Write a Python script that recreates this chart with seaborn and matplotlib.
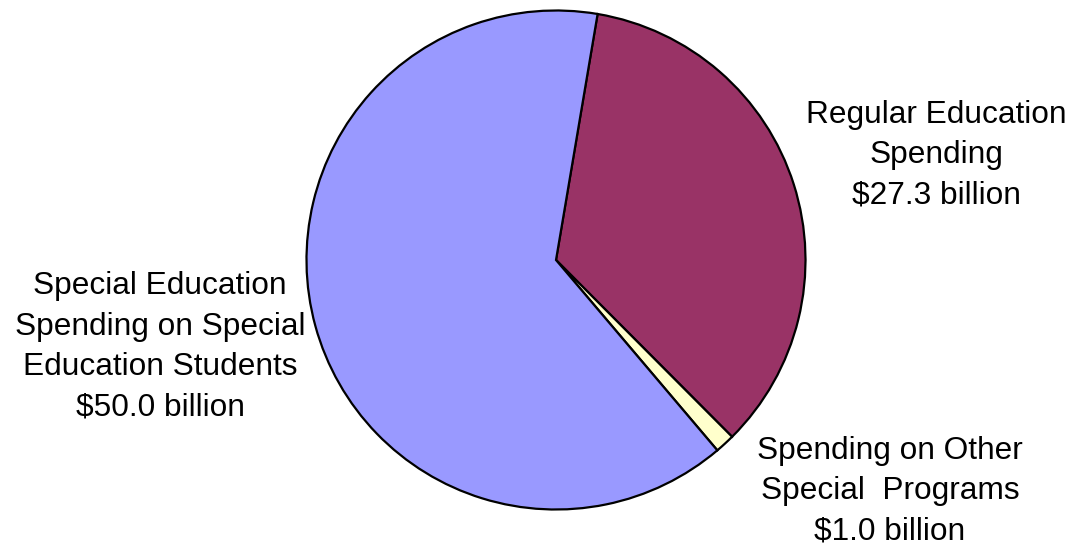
import matplotlib
matplotlib.use("Agg")
import matplotlib.pyplot as plt
import seaborn as sns

sns.set_theme(style="white")
plt.rcParams["font.family"] = ["Liberation Sans", "DejaVu Sans"]

# Spending shares, billions of dollars
categories = ["Regular Education\nSpending",
              "Spending on Other\nSpecial  Programs",
              "Special Education\nSpending on Special\nEducation Students"]
values = [27.3, 1.0, 50.0]
colors = ["#993366", "#FFFFCC", "#9999FF"]

fig = plt.figure(figsize=(10.7, 5.5), dpi=100)
ax = fig.add_axes([304 / 1070, 38 / 550, 504 / 1070, 504 / 550])

ax.pie(values, colors=colors, startangle=80.4, counterclock=False,
       radius=1.0,
       wedgeprops=dict(edgecolor="black", linewidth=1.6))
ax.set_xlim(-1.01, 1.01)
ax.set_ylim(-1.01, 1.01)
ax.set_aspect("equal")
ax.axis("off")

# Label placement in figure pixels (x, y from the top)
label_pos = [(936, 155), (890, 491), (160, 347)]
for name, val, (px, py) in zip(categories, values, label_pos):
    fig.text(px / 1070, 1 - py / 550, f"{name}\n${val:.1f} billion",
             ha="center", va="center", fontsize=22.8, linespacing=1.45,
             color="black")

fig.savefig("out.png", dpi=100, facecolor="white")
